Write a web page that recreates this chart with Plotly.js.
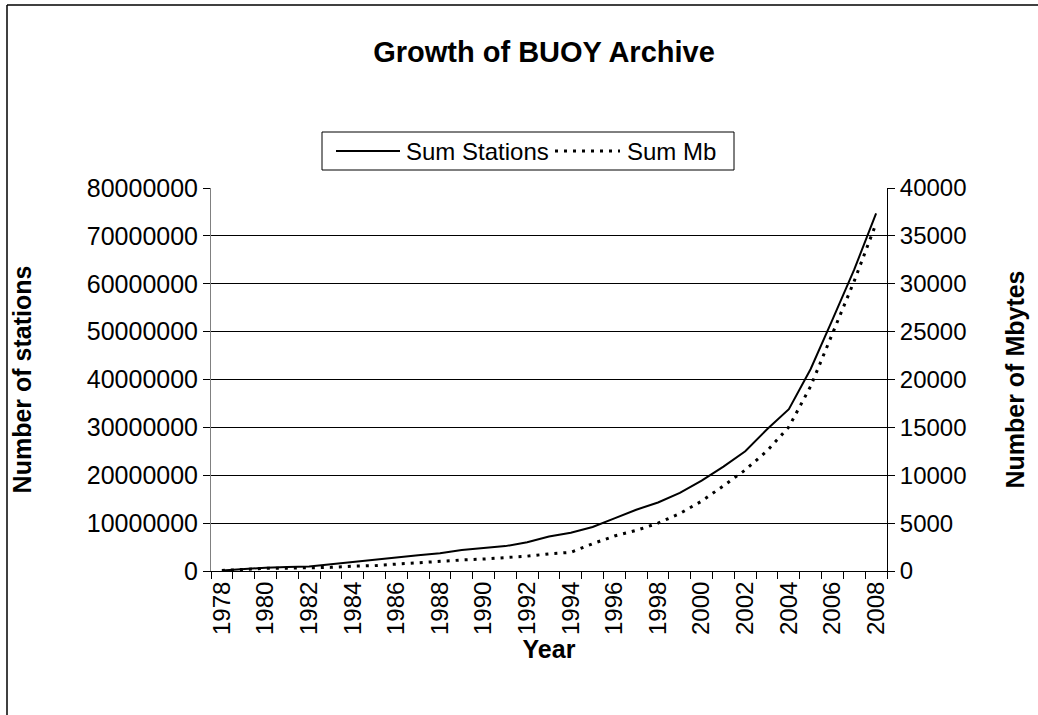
<!DOCTYPE html>
<html>
<head>
<meta charset="utf-8">
<script src="https://cdn.plot.ly/plotly-3.0.1.min.js"></script>
<style>
  html, body { margin: 0; padding: 0; background: #ffffff; }
  #chart { width: 1038px; height: 715px; }
</style>
</head>
<body>
<div id="chart"></div>
<script>
// ---- data ----
const years = [1978, 1979, 1980, 1981, 1982, 1983, 1984, 1985, 1986, 1987,
               1988, 1989, 1990, 1991, 1992, 1993, 1994, 1995, 1996, 1997,
               1998, 1999, 2000, 2001, 2002, 2003, 2004, 2005, 2006, 2007, 2008];
const sumStations = [100000, 450000, 700000, 850000, 950000, 1400000, 1900000, 2300000, 2800000, 3300000,
                     3700000, 4400000, 4800000, 5200000, 6000000, 7200000, 8000000, 9200000, 11000000, 12800000,
                     14300000, 16300000, 18900000, 21800000, 25000000, 29600000, 33800000, 42200000, 52500000, 63000000, 74700000];
const sumMb = [50, 200, 280, 300, 330, 380, 500, 560, 720, 880,
               1000, 1150, 1250, 1400, 1550, 1790, 1950, 2850, 3650, 4240,
               5000, 6000, 7300, 8900, 10550, 12550, 15050, 19300, 24850, 30300, 36300];
const yearTickLabels = ["1978","1980","1982","1984","1986","1988","1990","1992",
                        "1994","1996","1998","2000","2002","2004","2006","2008"];
const seriesNames = ["Sum Stations", "Sum Mb"];

// ---- geometry helpers (pixel -> paper) ----
const W = 1038, H = 715;
const L = 211, R = 887, T = 188, B = 571;
const px = x => (x - L) / (R - L);
const py = y => (B - y) / (B - T);

const FONT = '"Liberation Sans", Arial, sans-serif';

const traces = [
  {
    x: years, y: sumStations, name: seriesNames[0], type: 'scatter', mode: 'lines',
    line: { color: '#000000', width: 2 }, yaxis: 'y', showlegend: false
  },
  {
    x: years, y: sumMb, name: seriesNames[1], type: 'scatter', mode: 'lines',
    line: { color: '#000000', width: 3, dash: '3px,6px' }, yaxis: 'y2', showlegend: false
  }
];

const boundaries = years.concat([years[years.length - 1] + 1]).map(v => v - 0.5);

const layout = {
  width: W, height: H,
  margin: { l: L, r: W - R, t: T, b: H - B, pad: 0 },
  paper_bgcolor: '#ffffff', plot_bgcolor: '#ffffff',
  font: { family: FONT, color: '#000000', size: 24 },
  showlegend: false,
  title: {
    text: 'Growth of BUOY Archive',
    font: { family: FONT, size: 29, weight: 'bold', color: '#000000' },
    xref: 'container', x: 544 / W, xanchor: 'center',
    yref: 'container', y: 1 - 52 / H, yanchor: 'middle'
  },
  xaxis: {
    type: 'linear',
    range: [years[0] - 0.5, years[years.length - 1] + 0.5],
    tickmode: 'array',
    tickvals: yearTickLabels.map(Number),
    ticktext: yearTickLabels,
    tickangle: -90,
    ticks: '',
    tickfont: { family: FONT, size: 24, color: '#000000' },
    showgrid: false, zeroline: false,
    showline: true, linecolor: '#000000', linewidth: 1,
    minor: { tickmode: 'array', tickvals: boundaries, ticks: 'outside', ticklen: 7, tickcolor: '#000000', tickwidth: 1, showgrid: false },
    title: { text: 'Year', font: { family: FONT, size: 25, weight: 'bold' }, standoff: 5 },
    fixedrange: true
  },
  yaxis: {
    range: [0, 80000000], dtick: 10000000, tick0: 0,
    tickformat: 'd',
    ticks: 'outside', ticklen: 7, tickcolor: '#000000', tickwidth: 1,
    showgrid: true, gridcolor: '#000000', gridwidth: 1,
    zeroline: false,
    showline: true, linecolor: '#808080', linewidth: 1,
    tickfont: { family: FONT, size: 25, color: '#000000' },
    title: { text: 'Number of stations', font: { family: FONT, size: 25, weight: 'bold' }, standoff: 48 },
    fixedrange: true
  },
  yaxis2: {
    overlaying: 'y', side: 'right', anchor: 'x',
    range: [0, 40000], dtick: 5000, tick0: 0,
    tickformat: 'd',
    ticks: 'outside', ticklen: 7, tickcolor: '#000000', tickwidth: 1,
    showgrid: false, zeroline: false,
    showline: true, linecolor: '#000000', linewidth: 1,
    tickfont: { family: FONT, size: 24, color: '#000000' },
    title: { text: 'Number of Mbytes', font: { family: FONT, size: 25, weight: 'bold' }, standoff: 40 },
    fixedrange: true
  },
  shapes: [
    // outer chart frame (left and top edges visible)
    { type: 'line', xref: 'paper', yref: 'paper', x0: px(7), x1: px(7), y0: py(5), y1: py(716), line: { color: '#000000', width: 1.5 } },
    { type: 'line', xref: 'paper', yref: 'paper', x0: px(7), x1: px(1040), y0: py(5), y1: py(5), line: { color: '#000000', width: 1.5 } },
    // legend box
    { type: 'rect', xref: 'paper', yref: 'paper', x0: px(322), x1: px(734), y0: py(132), y1: py(170), line: { color: '#000000', width: 1 }, fillcolor: '#ffffff' },
    // legend samples
    { type: 'line', xref: 'paper', yref: 'paper', x0: px(336), x1: px(400), y0: py(151), y1: py(151), line: { color: '#000000', width: 2 } },
    { type: 'line', xref: 'paper', yref: 'paper', x0: px(555), x1: px(620), y0: py(151), y1: py(151), line: { color: '#000000', width: 3, dash: '3px,6px' } }
  ],
  annotations: [
    { text: seriesNames[0], xref: 'paper', yref: 'paper', x: px(404), y: py(151), xanchor: 'left', yanchor: 'middle', showarrow: false, font: { family: FONT, size: 24, color: '#000000' } },
    { text: seriesNames[1], xref: 'paper', yref: 'paper', x: px(625), y: py(151), xanchor: 'left', yanchor: 'middle', showarrow: false, font: { family: FONT, size: 24, color: '#000000' } }
  ]
};

Plotly.newPlot('chart', traces, layout, { staticPlot: true, displayModeBar: false });
</script>
</body>
</html>
